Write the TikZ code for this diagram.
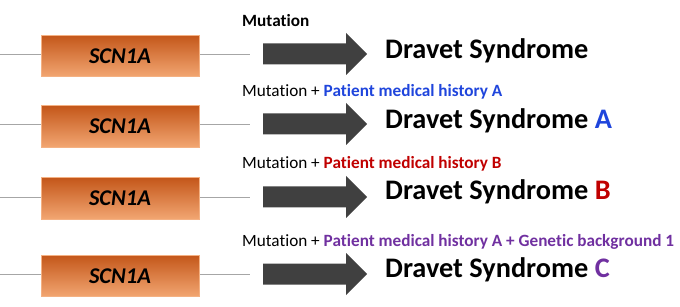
\documentclass[tikz,border=0pt]{standalone}
\usepackage{fontspec}
\setmainfont[Ligatures=CommonOff]{Carlito}
\definecolor{arrowgray}{HTML}{404040}
\definecolor{genetop}{HTML}{F2A672}
\definecolor{genebottom}{HTML}{C4571A}
\definecolor{geneborder}{HTML}{F4B183}
\definecolor{linegray}{HTML}{A6A6A6}
\definecolor{medblue}{HTML}{1F45DC}
\definecolor{medred}{HTML}{C00000}
\definecolor{medpurple}{HTML}{7030A0}
\begin{document}
\begin{tikzpicture}[x=1pt,y=-1pt]
\tikzset{
  gene/.style={draw=geneborder, line width=0.6pt, top color=genebottom, bottom color=genetop,
    minimum width=158pt, minimum height=41.5pt, inner sep=0pt,
    font=\fontsize{22.5}{22.5}\selectfont\bfseries\itshape},
  geneline/.style={draw=linegray, line width=0.8pt},
  bigarrow/.style={fill=arrowgray},
  cond/.style={anchor=base west, inner sep=0pt, font=\fontsize{17.2}{17.2}\selectfont},
  result/.style={anchor=base west, inner sep=0pt, font=\fontsize{28.3}{28.3}\selectfont\bfseries}
}
\useasboundingbox (0,0) rectangle (680,307);
\foreach \i/\ly/\by in {1/54/56, 2/124/126.5, 3/197/198.5, 4/274/276}{
  \coordinate (l\i) at (0,\ly);
  \coordinate (r\i) at (250,\ly);
  \draw[geneline] (l\i) -- (r\i);
  \node[gene] (gene\i) at (120,\by) {SCN1A};
  \fill[bigarrow] (263,\ly-10.5) -- (346,\ly-10.5) -- (346,\ly-21) -- (367,\ly)
    -- (346,\ly+21) -- (346,\ly+10.5) -- (263,\ly+10.5) -- cycle;
}
\node[cond] (c1) at (242,26.7) {\bfseries Mutation};
\node[cond] (c2) at (242,96.7) {Mutation + \textcolor{medblue}{\bfseries Patient medical history A}};
\node[cond] (c3) at (242,169) {Mutation + \textcolor{medred}{\bfseries Patient medical history B}};
\node[cond] (c4) at (242,247) {Mutation + \textcolor{medpurple}{\bfseries Patient medical history A + Genetic background 1}};
\node[result] (d1) at (385,58.3) {Dravet Syndrome};
\node[result] (d2) at (385,128.3) {Dravet Syndrome \textcolor{medblue}{A}};
\node[result] (d3) at (385,200) {Dravet Syndrome \textcolor{medred}{B}};
\node[result] (d4) at (385,277.7) {Dravet Syndrome \textcolor{medpurple}{C}};
\end{tikzpicture}
\end{document}
